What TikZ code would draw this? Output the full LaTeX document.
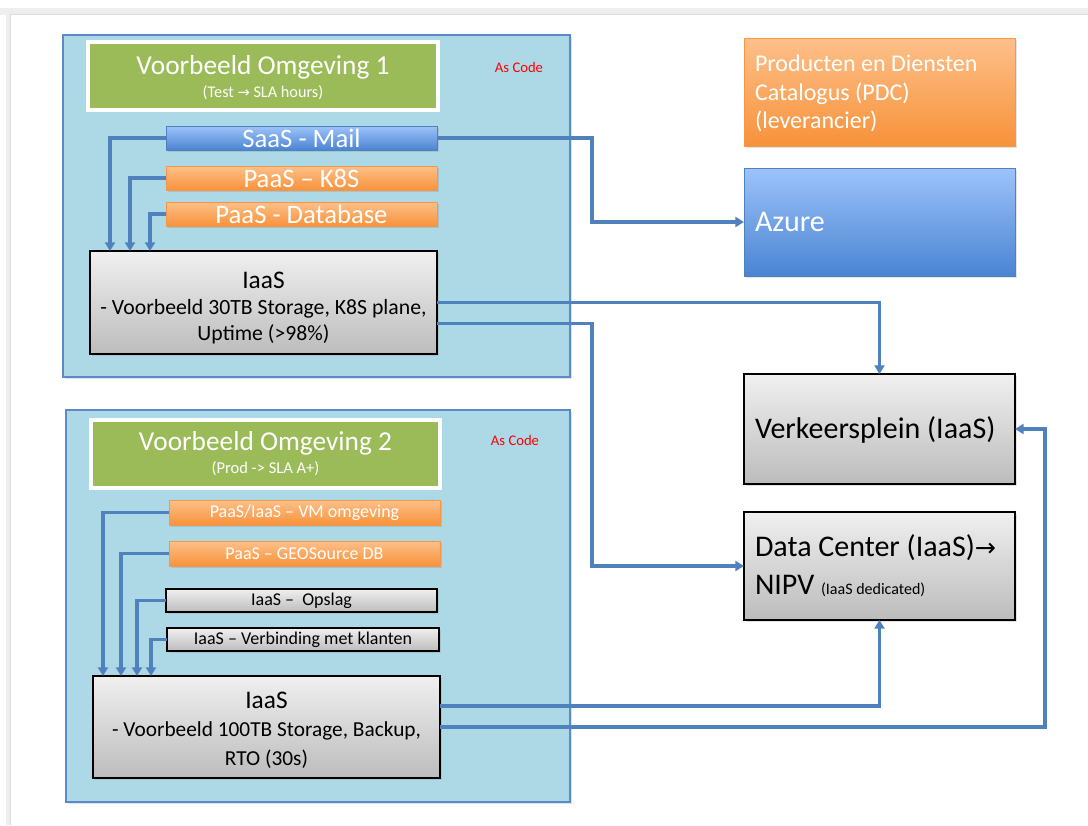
\documentclass[tikz,border=0pt]{standalone}
\usepackage{fontspec}
\setmainfont{Carlito}
\newfontfamily\arrowfont{DejaVu Sans}
\usetikzlibrary{arrows.meta,shadows}
\definecolor{envfill}{HTML}{ADD8E6}
\definecolor{envline}{HTML}{5B8ACB}
\definecolor{grn}{HTML}{9BBB59}
\definecolor{orTop}{HTML}{FDC08A}
\definecolor{orBot}{HTML}{F7923A}
\definecolor{orLine}{HTML}{F79646}
\definecolor{blTop}{HTML}{9DC3FA}
\definecolor{blBot}{HTML}{4A84D2}
\definecolor{blLine}{HTML}{4F81BD}
\definecolor{grTop}{HTML}{F0F0F0}
\definecolor{grBot}{HTML}{BCBCBC}
\definecolor{conn}{HTML}{4F81BD}
\definecolor{frameGrey}{HTML}{EEEEEE}
\definecolor{frameEdge}{HTML}{DCDCDC}
\newcommand{\rarr}[1]{{\arrowfont\fontsize{#1}{#1}\selectfont →}}
\tikzset{
  every node/.style={inner sep=0pt, outer sep=0pt},
  shad/.style={drop shadow={opacity=0.22, shadow xshift=1.2pt, shadow yshift=-1.2pt}},
  envbox/.style={draw=envline, line width=0.9pt, fill=envfill, shad},
  titlebox/.style={draw=white, line width=2.4pt, fill=grn, text=white, align=center, shad},
  orbox/.style={draw=orLine, line width=0.6pt, top color=orTop, bottom color=orBot, text=white, align=center, shad},
  blbox/.style={draw=blLine, line width=0.6pt, top color=blTop, bottom color=blBot, text=white, align=center, shad},
  grbox/.style={draw=black, line width=0.8pt, top color=grTop, bottom color=grBot, text=black, align=center, shad},
  conline/.style={draw=conn, line width=2.3pt, -{Triangle[length=6.5pt,width=7.5pt]}},
  ascode/.style={text=red, font=\fontsize{11}{13}\selectfont}
}
\begin{document}
\begin{tikzpicture}[x=0.75pt, y=-0.75pt]
\useasboundingbox (0,0) rectangle (1088,825);
% page frame
\fill[frameGrey] (0,8) rectangle (1088,15);
\fill[frameGrey] (6,8) rectangle (11,825);
\draw[frameEdge, line width=0.8pt] (1088,14.5) -- (10.5,14.5) -- (10.5,825);
% environment containers
\draw[envbox] (63,35) rectangle (570,377);
\draw[envbox] (66,410) rectangle (570,802);
% ---------- Environment 1
\node[titlebox, minimum width=262.5pt, minimum height=51pt] (t1) at (263,76) {};
\node[text=white, font=\fontsize{20.5}{24}\selectfont] (t1a) at (263,67) {Voorbeeld Omgeving 1};
\node[text=white, font=\fontsize{12.2}{14}\selectfont] (t1b) at (263,93) {(Test \rarr{11} SLA hours)};
\node[ascode] (ac1) at (519,67) {As Code};
\node[blbox, minimum width=203.25pt, minimum height=18pt, font=\fontsize{20}{22}\selectfont] (saas) at (301.5,138) {SaaS - Mail};
\node[orbox, minimum width=203.25pt, minimum height=18pt, font=\fontsize{20}{22}\selectfont] (k8s) at (301.5,178) {PaaS -- K8S};
\node[orbox, minimum width=203.25pt, minimum height=18pt, font=\fontsize{20}{22}\selectfont] (db) at (301.5,214) {PaaS - Database};
\node[grbox, minimum width=260.25pt, minimum height=77.25pt] (iaas1) at (263.5,302.5) {};
\node[align=center, font=\fontsize{16.3}{19.2}\selectfont] (iaas1t) at (263.5,308)
  {{\fontsize{19}{19.2}\selectfont IaaS}\\- Voorbeeld 30TB Storage, K8S plane,\\Uptime (>98\%)};
% ---------- Environment 2
\node[titlebox, minimum width=261.75pt, minimum height=51pt] (t2) at (265.5,454) {};
\node[text=white, font=\fontsize{20.5}{24}\selectfont] (t2a) at (265.5,443) {Voorbeeld Omgeving 2};
\node[text=white, font=\fontsize{12.4}{14}\selectfont] (t2b) at (265.5,469) {(Prod -> SLA A+)};
\node[ascode] (ac2) at (515,440) {As Code};
\node[orbox, minimum width=203.25pt, minimum height=18.75pt, font=\fontsize{13.5}{15}\selectfont] (vm) at (304.5,512.5) {PaaS/IaaS -- VM omgeving};
\node[orbox, minimum width=203.25pt, minimum height=18.75pt, font=\fontsize{13.5}{15}\selectfont] (geo) at (304.5,553.5) {PaaS -- GEOSource DB};
\node[grbox, minimum width=203.25pt, minimum height=17.25pt, font=\fontsize{13.5}{15}\selectfont] (ops) at (301.5,600.5) {IaaS --\ \ Opslag};
\node[grbox, minimum width=204pt, minimum height=17.25pt, font=\fontsize{13.5}{15}\selectfont] (verb) at (303,639.5) {IaaS -- Verbinding met klanten};
\node[grbox, minimum width=260.25pt, minimum height=76.5pt] (iaas2) at (266.5,727) {};
\node[align=center, font=\fontsize{16}{21.4}\selectfont] (iaas2t) at (266.5,730)
  {{\fontsize{19}{21.4}\selectfont IaaS}\\- Voorbeeld 100TB Storage, Backup,\\RTO (30s)};
% ---------- Right column
\node[draw=orLine, line width=0.5pt, top color=orTop, bottom color=orBot, shad, minimum width=203.25pt, minimum height=81pt] (pdc) at (879.5,92) {};
\node[text=white, anchor=north west, align=left, font=\fontsize{18}{21.4}\selectfont] (pdct) at (755,55)
  {Producten en Diensten\\Catalogus (PDC)\\(leverancier)};
\node[blbox, minimum width=203.25pt, minimum height=81pt] (azure) at (879.5,222) {};
\node[text=white, anchor=west, font=\fontsize{22.5}{26}\selectfont] (azt) at (755,222) {Azure};
\node[grbox, minimum width=203.25pt, minimum height=82.5pt] (verk) at (879.5,429) {};
\node[anchor=west, font=\fontsize{22.5}{26}\selectfont] (verkt) at (755,430) {Verkeersplein (IaaS)};
\node[grbox, minimum width=203.25pt, minimum height=81pt] (dc) at (879.5,566) {};
\node[anchor=north west, align=left, font=\fontsize{22.5}{28.5}\selectfont] (dct) at (755,535)
  {Data Center (IaaS)\rarr{19}\\NIPV {\fontsize{12}{14}\selectfont (IaaS dedicated)}};
% ---------- Connectors env 1
\draw[conline] (saas.west) -| ([xshift=15pt]iaas1.north west);
\draw[conline] (k8s.west) -| ([xshift=30pt]iaas1.north west);
\draw[conline] (db.west) -| ([xshift=45pt]iaas1.north west);
\draw[conline] (saas.east) -- ++(116.25pt,0) |- (azure.west);
\draw[conline] (iaas1.east) -| (verk.north);
\draw[conline] ([yshift=-15.4pt]iaas1.east) -- ++(116.25pt,0) |- (dc.west);
% ---------- Connectors env 2
\draw[conline] (vm.west) -| ([xshift=7.5pt]iaas2.north west);
\draw[conline] (geo.west) -| ([xshift=21pt]iaas2.north west);
\draw[conline] (ops.west) -| ([xshift=33pt]iaas2.north west);
\draw[conline] (verb.west) -| ([xshift=43.5pt]iaas2.north west);
\draw[conline] ([yshift=15.75pt]iaas2.east) -| (dc.south);
\draw[conline] (iaas2.east) -- ++(453.75pt,0) |- (verk.east);
\end{tikzpicture}
\end{document}
